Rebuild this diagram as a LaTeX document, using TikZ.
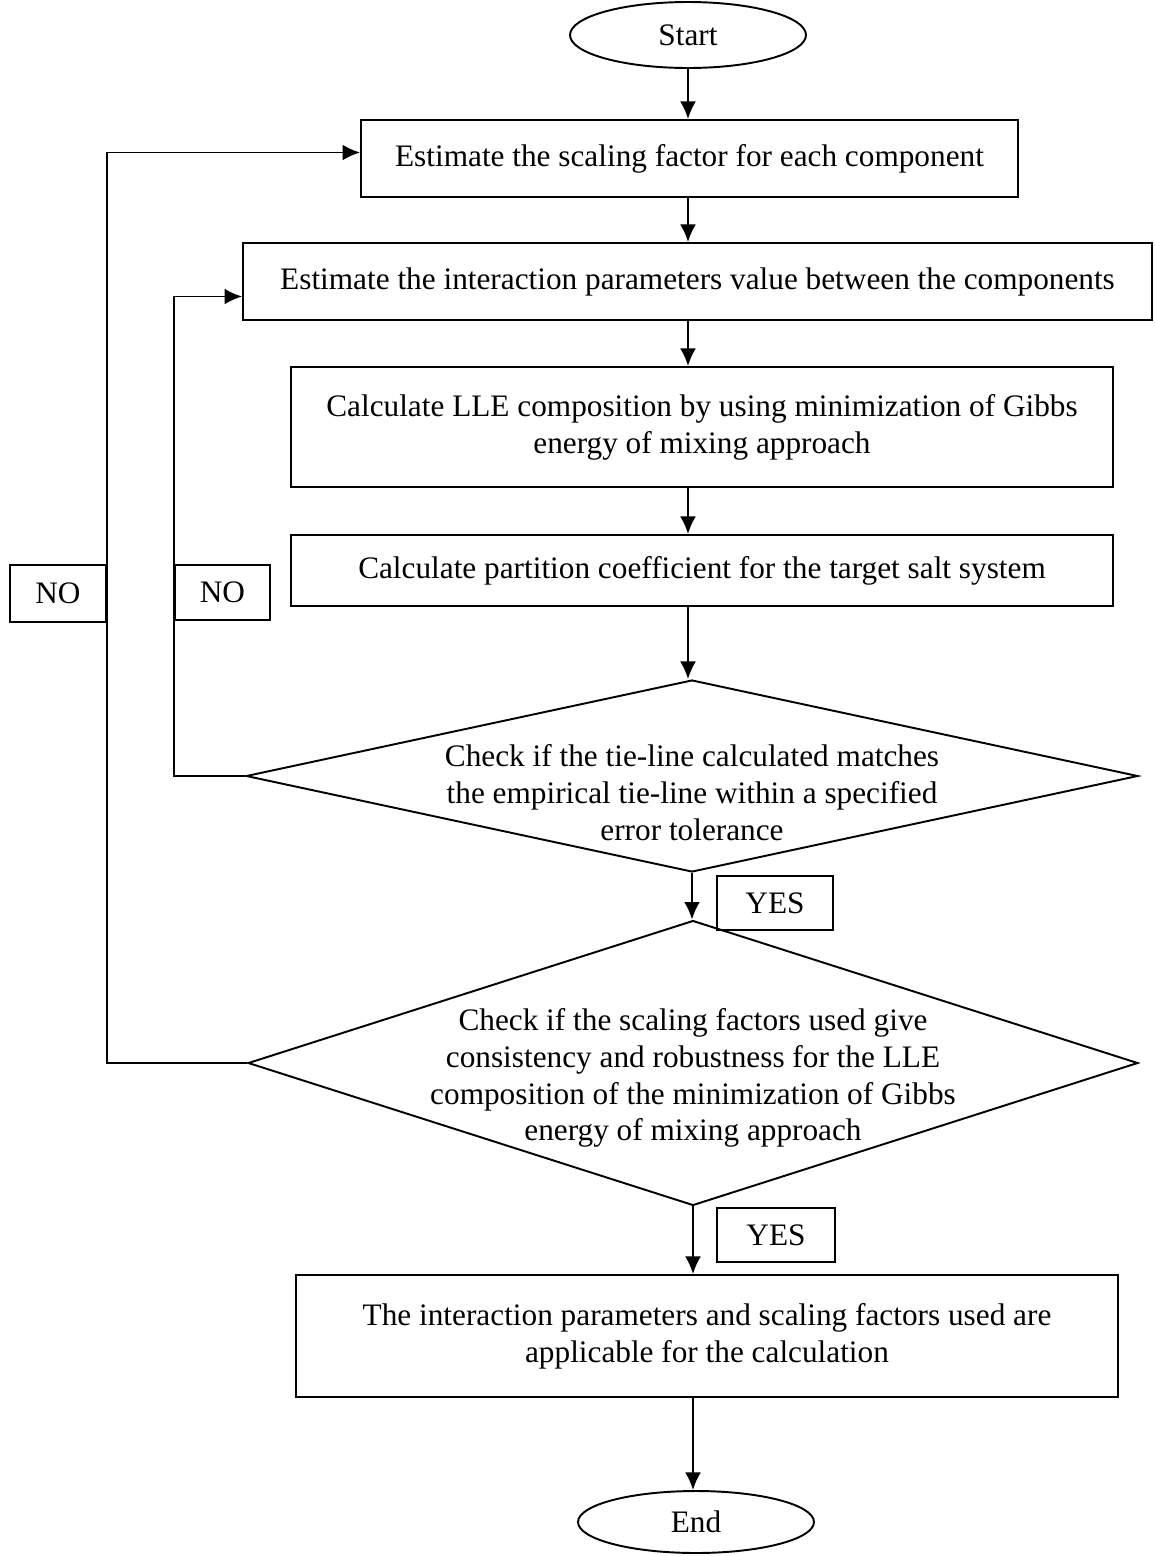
\documentclass[tikz,border=0pt]{standalone}
\usepackage{fontspec}
\setmainfont{Liberation Serif}
\usetikzlibrary{calc,shapes.geometric,arrows.meta}
\tikzset{
	stepbox/.style={draw,line width=1.1pt,inner sep=0pt,align=center},%
	terminal/.style={draw,ellipse,line width=1.1pt,inner sep=0pt,minimum width=4.72cm},%
	decision/.style={draw,diamond,line width=1.1pt,inner sep=0pt},%
	answer/.style={draw,line width=1.1pt,inner sep=0pt},%
	flow/.style={line width=1.1pt,-{Latex[length=10pt,width=9pt]}},%
	txt/.style={align=center},%
}
\def\txtsize{\fontsize{17.8pt}{21pt}\selectfont}

\begin{document}
\begin{tikzpicture}[x=0.02cm,y=-0.02cm,font=\txtsize]
		\useasboundingbox (0,0) rectangle (1154,1556);
		% main column
		\node[terminal,minimum height=1.32cm] (start) at (688,35) {Start};
		\node[stepbox,minimum width=13.14cm,minimum height=1.54cm] (scale) at (689.5,158.5) {Estimate the scaling factor for each component};
		\node[stepbox,minimum width=18.18cm,minimum height=1.54cm] (interact) at (697.5,281.5) {Estimate the interaction parameters value between the components};
		\node[stepbox,minimum width=16.44cm,minimum height=2.4cm] (lle) at (702,427) {Calculate LLE composition by using minimization of Gibbs\\energy of mixing approach};
		\node[stepbox,minimum width=16.44cm,minimum height=1.42cm] (part) at (702,570.5) {Calculate partition coefficient for the target salt system};
		\node[decision,minimum width=17.84cm,minimum height=3.84cm,%
		label={[txt,yshift=-0.34cm]center:Check if the tie-line calculated matches\\the empirical tie-line within a specified\\error tolerance}] (tieline) at (692,776) {};
		\node[decision,minimum width=17.8cm,minimum height=5.7cm,%
		label={[txt,yshift=-0.3cm]center:Check if the scaling factors used give\\consistency and robustness for the LLE\\composition of the minimization of Gibbs\\energy of mixing approach}] (robust) at (693,1063) {};
		\node[stepbox,minimum width=16.44cm,minimum height=2.44cm] (final) at (707,1336) {The interaction parameters and scaling factors used are\\applicable for the calculation};
		\node[terminal,minimum height=1.24cm] (end) at (696,1522) {End};
		% answer boxes
		\node[answer,minimum width=1.92cm,minimum height=1.14cm] (noout) at (58,593.5) {NO};
		\node[answer,minimum width=1.9cm,minimum height=1.1cm] (noin) at (222.5,592.5) {NO};
		\node[answer,minimum width=2.32cm,minimum height=1.08cm] (yesa) at (775,903) {YES};
		\node[answer,minimum width=2.36cm,minimum height=1.08cm] (yesb) at (776,1235) {YES};
		% arrows
		\coordinate (axis) at (688,0);
		\draw[flow] (start) -- (start |- scale.north);
		\draw[flow] (axis |- scale.south) -- (axis |- interact.north);
		\draw[flow] (axis |- interact.south) -- (axis |- lle.north);
		\draw[flow] (axis |- lle.south) -- (axis |- part.north);
		\draw[flow] (axis |- part.south) -- (axis |- tieline.north);
		\draw[flow] (tieline.south) -- (tieline.south |- robust.north);
		\draw[flow] (robust.south) -- (robust.south |- final.north);
		\draw[flow] (robust.south |- final.south) -- (robust.south |- end.north);
		% loops back
		\draw[flow] (tieline.west) -| (noin.west) |- ($(interact.west)+(0,15)$);
		\draw[flow] (robust.west) -| (noout.east) |- ($(scale.west)+(0,-6)$);
	\end{tikzpicture}
\end{document}
